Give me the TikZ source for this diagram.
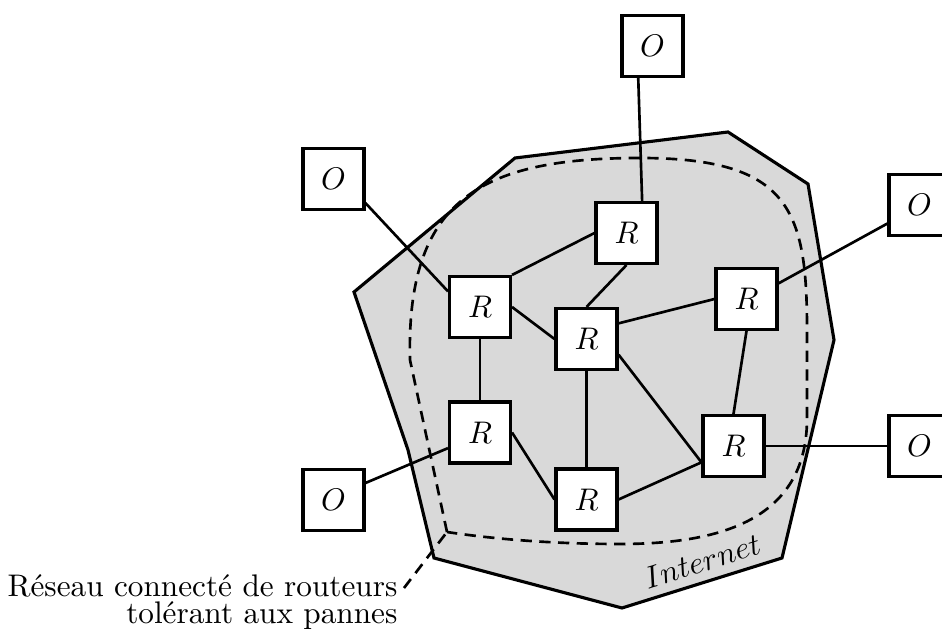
\documentclass[tikz,border=0pt]{standalone}
\usepackage{fontspec}
\begin{document}
\begin{tikzpicture}[x=0.32pt,y=-0.32pt,
  box/.style={draw,fill=white,line width=1pt,minimum size=19.5pt,inner sep=0pt},
  link/.style={line width=0.85pt},
  zone/.style={line width=0.85pt,dash pattern=on 3.6pt off 2.4pt}]
\useasboundingbox (0,0) rectangle (942,629);
% Internet cloud
\draw[fill=gray!30,line width=1pt,line join=miter]
  (354,292) -- (515,158) -- (728,132) -- (808,184) -- (834,340) -- (782,558)
  -- (622,608) -- (434,558) -- (408,450) -- cycle;
\node[rotate=17.4] (inet) at (702,561) {$Internet$};
% fault tolerant zone
\coordinate (cc) at (447,532);
\draw[zone] (cc) -- (410,360) .. controls (406,200) and (480,158) .. (640,158)
  .. controls (790,158) and (807,210) .. (807,330) -- (807,420)
  .. controls (806,520) and (720,544) .. (620,544)
  .. controls (540,544) and (480,537) .. (cc);
\node[align=right,anchor=north east,inner sep=0pt] (lbl) at (398,574.3)
  {Réseau connecté de routeurs\\[-3.3pt]tolérant aux pannes};
\coordinate (lead) at (404,588);
\draw[zone] (lead) -- (cc);
% nodes
\node[box] (Otop) at (652.5,46) {$O$};
\node[box] (Olt) at (333.5,179) {$O$};
\node[box] (Ort) at (919.5,205) {$O$};
\node[box] (Orb) at (919.5,446) {$O$};
\node[box] (Olb) at (333.5,500) {$O$};
\node[box] (Rtop) at (626.5,233) {$R$};
\node[box] (Rl) at (480,307) {$R$};
\node[box] (Rc) at (586.5,339) {$R$};
\node[box] (Rr) at (746.5,299) {$R$};
\node[box] (Rll) at (480,432.5) {$R$};
\node[box] (Rb) at (586.5,499.5) {$R$};
\node[box] (Rlr) at (733.5,446) {$R$};
% links
\draw[link] (Otop.-114.4) -- (Rtop.64.2);
\draw[link] (Olt.-37.3) -- (Rl.154.9);
\draw[link] (Ort.-150.3) -- (Rr.26.2);
\draw[link] (Rlr.east) -- (Orb.west);
\draw[link] (Olb.28.4) -- (Rll.-154.2);
\draw[link] (Rl.north east) -- (Rtop.west);
\draw[link] (Rtop.south) -- (Rc.north);
\draw[link] (Rl.east) -- (Rc.west);
\draw[link] (Rc.26.2) -- (Rr.west);
\draw[link] (Rr.south) -- (Rlr.north);
\draw[link] (Rc.-26.9) -- (Rlr.-153.8);
\draw[link] (Rc.south) -- (Rb.north);
\draw[link] (Rl.south) -- (Rll.north);
\draw[link] (Rll.east) -- (Rb.west);
\draw[link] (Rb.east) -- (Rlr.-153.8);
\end{tikzpicture}
\end{document}
